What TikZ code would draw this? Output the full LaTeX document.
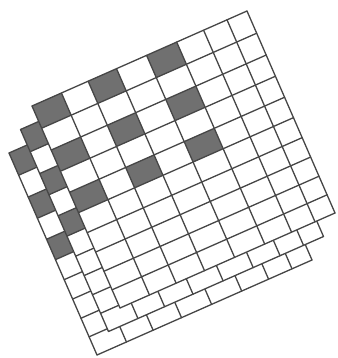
\documentclass[tikz,border=0pt]{standalone}
\usepackage{tikz}
\usepackage{xcolor}

\definecolor{cellgray}{RGB}{112,112,112}
\definecolor{linegray}{RGB}{70,70,70}

\begin{document}
\begin{tikzpicture}[
            x=1pt, y=1pt,
            sheet/.style={fill=white},
            cell/.style={fill=cellgray},
            gridline/.style={draw=linegray, line width=1.3pt, line cap=round, line join=round}
        ]
            \useasboundingbox (0,0) rectangle (337,-358);

            % --- LAYERS (back to front) ---
            \foreach \k in {2,1,0} {
                \begin{scope}[shift={(32-11.5*\k,-106-23.5*\k)}, x={(215pt,95pt)}, y={(88pt,-202pt)}]
                    % --- SHEET ---
                    \fill[sheet] (0,0) -- (1,0) -- (1,1) -- (0,1) -- cycle;

                    % --- DARK CELLS ---
                    \foreach \a/\b in {0/0.137, 0.261/0.393, 0.533/0.673}
                        \foreach \t/\u in {0/0.110, 0.218/0.323, 0.427/0.528}
                            \fill[cell] (\a,\t) -- (\b,\t) -- (\b,\u) -- (\a,\u) -- cycle;

                    % --- LINES ---
                    \foreach \c in {0,0.137,0.261,0.393,0.533,0.673,0.798,0.907,1}
                        \draw[gridline] (\c,0) -- (\c,1);
                    \foreach \r in {0,0.110,0.218,0.323,0.427,0.528,0.627,0.723,0.818,0.910,1}
                        \draw[gridline] (0,\r) -- (1,\r);
                \end{scope}
            }
        \end{tikzpicture}
\end{document}
